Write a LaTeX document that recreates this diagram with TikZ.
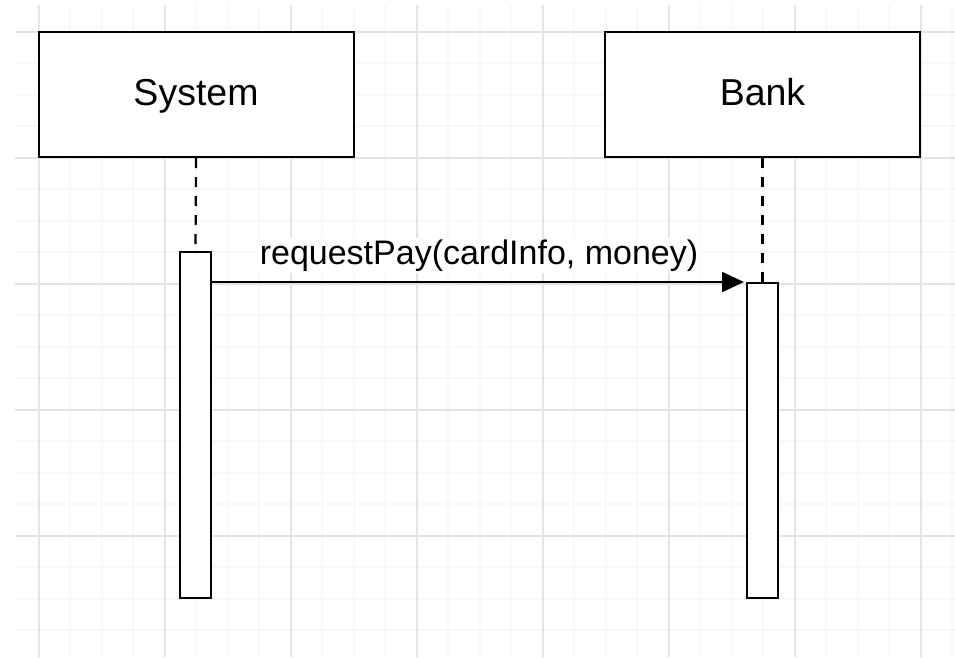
\documentclass[tikz,border=0pt]{standalone}
\usepackage{fontspec}
\setmainfont{Liberation Sans}
\usetikzlibrary{arrows.meta}
\definecolor{gridmajor}{HTML}{E4E4E4}
\definecolor{gridminor}{HTML}{F8F8F8}
\begin{document}
\begin{tikzpicture}[x=1pt,y=-1pt,
  minorline/.style={draw=gridminor,line width=2pt},
  majorline/.style={draw=gridmajor,line width=2pt},
  actor/.style={draw=black,fill=white,line width=2pt,minimum width=315pt,minimum height=125.5pt,inner sep=0pt,text height=30pt,text depth=7.1pt,font=\fontsize{37.5}{45}\selectfont},
  actbar/.style={draw=black,fill=white,line width=2pt,minimum width=31pt,inner sep=0pt},
  lifeline/.style={draw=black,line width=2.2pt,dash pattern=on 10pt off 9pt},
  msg/.style={draw=black,line width=2pt,-{Triangle[length=22pt,width=20pt]}},
  msglabel/.style={fill=white,inner sep=1.5pt,font=\fontsize{34}{40}\selectfont}]
\useasboundingbox (0,0) rectangle (955,657);
\fill[white] (0,0) rectangle (955,657);
% grid
\foreach \i in {0,...,29} {
  \pgfmathsetmacro{\gx}{38.5+31.5*\i}
  \draw[minorline] (\gx,5) -- (\gx,657);
}
\foreach \j in {0,...,19} {
  \pgfmathsetmacro{\gy}{31.5+31.5*\j}
  \draw[minorline] (15,\gy) -- (955,\gy);
}
\foreach \i in {0,4,...,28} {
  \pgfmathsetmacro{\gx}{38.5+31.5*\i}
  \draw[majorline] (\gx,5) -- (\gx,657);
}
\foreach \j in {0,4,...,16} {
  \pgfmathsetmacro{\gy}{31.5+31.5*\j}
  \draw[majorline] (15,\gy) -- (955,\gy);
}
% actors
\node[actor] (sys) at (196,94.25) {System};
\node[actor] (bank) at (762.5,94.25) {Bank};
% activation bars positions
\coordinate (sysactc) at (195.5,425);
\coordinate (bankactc) at (762.5,440.5);
\node[actbar,minimum height=346pt] (sysact) at (sysactc) {};
\node[actbar,minimum height=315pt] (bankact) at (bankactc) {};
% lifelines
\draw[lifeline] (sys.south) -- (sysact.north);
\draw[lifeline] (bank.south) -- (bankact.north);
% redraw bars on top
\node[actbar,minimum height=346pt] at (sysactc) {};
\node[actbar,minimum height=315pt] at (bankactc) {};
% message
\draw[msg,shorten >=2pt] (sysact.east |- bankact.north) -- (bankact.north west)
  node[midway,anchor=base,yshift=18pt,msglabel] (lbl) {requestPay(cardInfo, money)};
\end{tikzpicture}
\end{document}
